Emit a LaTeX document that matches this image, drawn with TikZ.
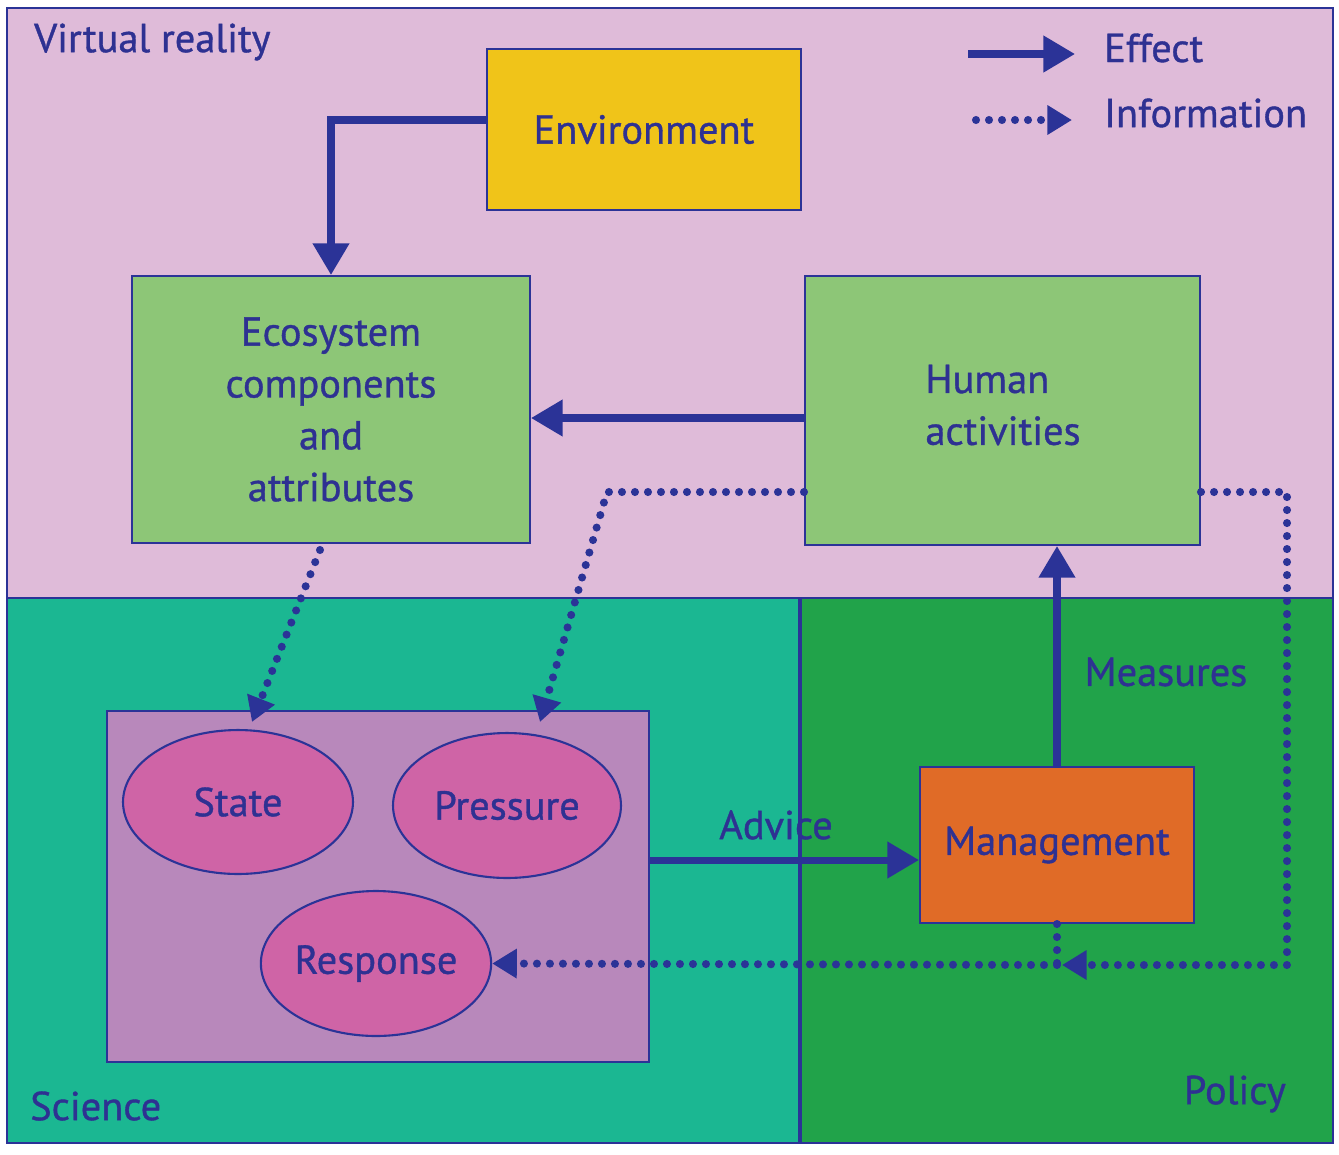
\documentclass[tikz,border=0pt]{standalone}
\usepackage{fontspec}
\setmainfont{PT Sans}[FakeBold=0.9]
\usetikzlibrary{arrows.meta,shapes.geometric,calc}
\definecolor{vrpink}{HTML}{DFBBD9}
\definecolor{scigreen}{HTML}{1BB792}
\definecolor{polgreen}{HTML}{21A34A}
\definecolor{boxgreen}{HTML}{8DC677}
\definecolor{envyellow}{HTML}{F0C419}
\definecolor{mgmtorange}{HTML}{E06B27}
\definecolor{scibox}{HTML}{B888BB}
\definecolor{ellpink}{HTML}{CF64A6}
\definecolor{lineblue}{HTML}{2B3397}
\definecolor{txtblue}{HTML}{2E3192}
\tikzset{
  every node/.style={font=\fontsize{23}{29.5}\selectfont, text=txtblue},
  region/.style={draw=lineblue, line width=1.6pt},
  box/.style={draw=lineblue, line width=1.2pt, rectangle, inner sep=0pt},
  ell/.style={draw=lineblue, line width=1.2pt, ellipse, fill=ellpink, inner sep=0pt},
  effect/.style={draw=lineblue, line width=4pt, -{Triangle[length=18pt,width=20pt]}},
  info/.style={draw=lineblue, line width=4.6pt, line cap=round, dash pattern=on 0pt off 7.4pt, -{Triangle[length=14pt,width=16pt]}},
  infoplain/.style={draw=lineblue, line width=4.6pt, line cap=round, dash pattern=on 0pt off 7.4pt},
}
\begin{document}
\begin{tikzpicture}[x=0.02cm, y=-0.02cm]
\useasboundingbox[fill=white] (0,0) rectangle (1339,1154);
% regions
\path[region, fill=vrpink] (7,8) rectangle (1333,598);
\path[region, fill=scigreen] (7,598) rectangle (800,1143);
\path[region, fill=polgreen] (800,598) rectangle (1333,1143);
\draw[lineblue, line width=2.4pt] (800,598) -- (800,1143);
\node[anchor=west] (vrlab) at (28,42) {Virtual reality};
\node[anchor=west] (scilab) at (24,1106) {Science};
\node[anchor=east] (pollab) at (1292,1094) {Policy};
% boxes
\node[box, fill=envyellow, minimum width=6.28cm, minimum height=3.22cm] (env) at (644,129.5) {Environment};
\node[box, fill=boxgreen, minimum width=7.96cm, minimum height=5.34cm, align=center] (eco) at (331,409.5) {Ecosystem\\components\\and\\attributes};
\node[box, fill=boxgreen, minimum width=7.9cm, minimum height=5.38cm] (hum) at (1002.5,410.5) {};
\node[align=left] (humtxt) at (1003,405) {Human\\activities};
\node[box, fill=mgmtorange, minimum width=5.48cm, minimum height=3.12cm] (mgmt) at (1057,845) {Management};
\node[box, fill=scibox, minimum width=10.84cm, minimum height=7.02cm] (sci) at (378,886.5) {};
\node[ell, minimum width=4.6cm, minimum height=2.88cm] (state) at (238,802) {State};
\node[ell, minimum width=4.56cm, minimum height=2.9cm] (press) at (507,805.5) {Pressure};
\node[ell, minimum width=4.56cm, minimum height=2.9cm] (resp) at (376,963.5) {Response};
% effect arrows
\coordinate (envy) at (0,120);
\draw[effect] (env.west |- envy) -| (eco.north);
\coordinate (humy) at (0,418);
\draw[effect] (hum.west |- humy) -- (eco.east |- humy);
\draw[effect] (mgmt.north) -- (mgmt.north |- hum.south);
\coordinate (adv) at (0,860);
\draw[effect] (sci.east |- adv) -- (mgmt.west |- adv);
\node (advlab) at (776,825) {Advice};
\node (measlab) at (1166,672) {Measures};
% information arrows
\coordinate (ecoout) at (320,550);
\coordinate (statetip) at (252,722);
\draw[info] (ecoout) -- (statetip);
\coordinate (hbend) at (607,492);
\coordinate (presstip) at (540,722);
\draw[info] (hum.west |- hbend) -- (hbend) -- (presstip);
\coordinate (rbend1) at (1287,492);
\coordinate (rbend2) at (1287,965);
\coordinate (rtip) at (1062,965);
\draw[info] (hum.east |- rbend1) -- (rbend1) -- (rbend2) -- (rtip);
\coordinate (mjoin) at (1057,965);
\draw[infoplain] (mgmt.south) -- (mjoin);
\draw[info] (mjoin) -- (resp.east);
% legend
\coordinate (la) at (968,54);
\coordinate (lb) at (1075,54);
\draw[effect] (la) -- (lb);
\node[anchor=west] (efflab) at (1098,48) {Effect};
\coordinate (lc) at (976,120);
\coordinate (ld) at (1072,120);
\draw[info] (lc) -- (ld);
\node[anchor=west] (inflab) at (1098,113) {Information};
\end{tikzpicture}
\end{document}
